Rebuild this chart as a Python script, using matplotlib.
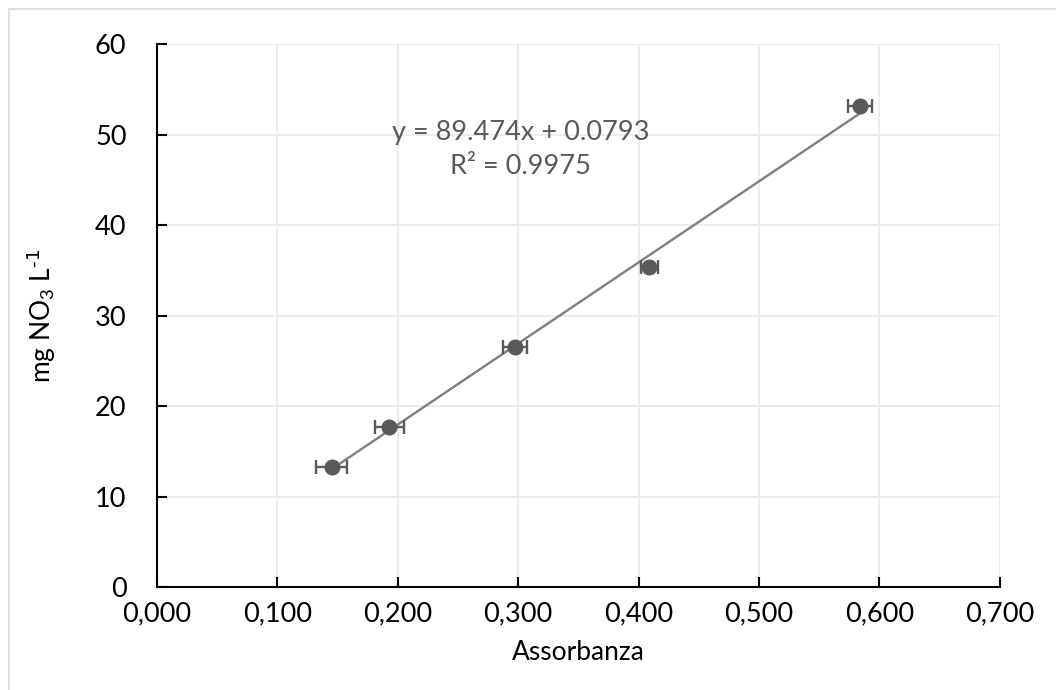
import numpy as np
import matplotlib
matplotlib.use("Agg")
import matplotlib.pyplot as plt
from matplotlib.lines import Line2D

plt.rcParams['font.family'] = ['Lato', 'DejaVu Sans']
plt.rcParams['mathtext.default'] = 'regular'

# dati di calibrazione
assorbanza = np.array([0.145, 0.193, 0.297, 0.409, 0.584])
conc_no3 = np.array([13.28, 17.71, 26.56, 35.42, 53.12])
err_x = np.array([0.013, 0.012, 0.010, 0.007, 0.010])
x_ticks = [0.0, 0.1, 0.2, 0.3, 0.4, 0.5, 0.6, 0.7]
x_labels = ['0,000', '0,100', '0,200', '0,300', '0,400', '0,500', '0,600', '0,700']
y_ticks = [0, 10, 20, 30, 40, 50, 60]
equazione = "y = 89.474x + 0.0793\nR² = 0.9975"

grigio = '#595959'

fig = plt.figure(figsize=(10.56, 6.9), dpi=100)
ax = fig.add_axes([0.1487, 0.149, 0.798, 0.787])

# retta di tendenza (solo nel range dei dati)
m, q = np.polyfit(assorbanza, conc_no3, 1)
xr = np.array([assorbanza.min(), assorbanza.max()])
ax.plot(xr, m * xr + q, color='#7f7f7f', lw=1.7, zorder=3)

ax.errorbar(assorbanza, conc_no3, xerr=err_x, fmt='o', color=grigio,
            ecolor=grigio, elinewidth=1.7, capsize=5, capthick=1.7,
            markersize=10.5, zorder=4)

ax.text(0.302, 48.4, equazione, ha='center', va='center', fontsize=19.5,
        color=grigio, linespacing=1.45)

ax.set_xlim(0, 0.7)
ax.set_ylim(0, 60)
ax.set_xticks(x_ticks)
ax.set_xticklabels(x_labels)
ax.set_yticks(y_ticks)
ax.tick_params(direction='in', length=7, width=1.5, labelsize=19.5)
ax.tick_params(axis='x', pad=10)
ax.tick_params(axis='y', pad=22)
ax.grid(True, color='#ebebeb', lw=1.3)
ax.set_axisbelow(True)
for s in ['top', 'right']:
    ax.spines[s].set_visible(False)
for s in ['left', 'bottom']:
    ax.spines[s].set_linewidth(1.5)
    ax.spines[s].set_color('black')

ax.set_xlabel('Assorbanza', fontsize=19)
ax.set_ylabel('mg NO$_3$ L$^{\\text{-1}}$', fontsize=19)
ax.xaxis.set_label_coords(0.5, -0.097)
ax.yaxis.set_label_coords(-0.118, 0.5)

# bordo del grafico
fig.add_artist(Line2D([9 / 1056, 1.0], [1 - 9 / 690, 1 - 9 / 690],
                      transform=fig.transFigure, color='#d9d9d9', lw=1.2))
fig.add_artist(Line2D([9 / 1056, 9 / 1056], [0, 1 - 9 / 690],
                      transform=fig.transFigure, color='#d9d9d9', lw=1.2))

fig.savefig('out.png', dpi=100)
